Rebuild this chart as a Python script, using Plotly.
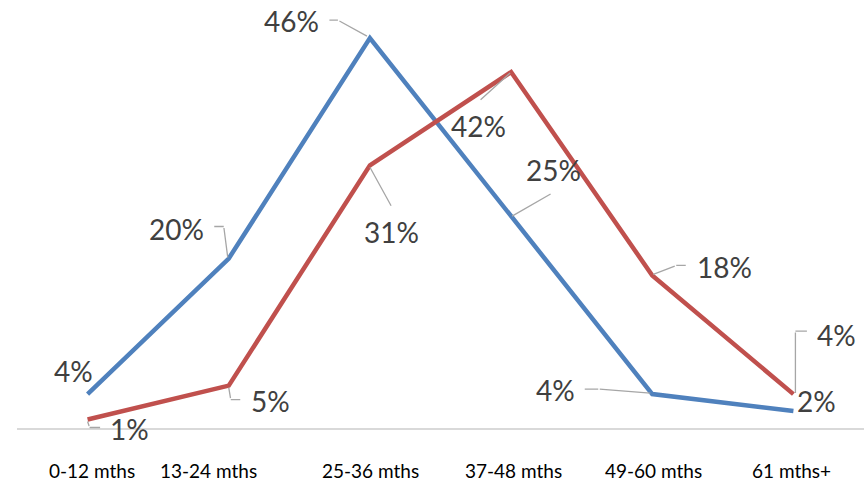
import plotly.graph_objects as go

# Age bands and share of each group (percent)
categories = ["0-12 mths", "13-24 mths", "25-36 mths", "37-48 mths", "49-60 mths", "61 mths+"]
blue_values = [4, 20, 46, 25, 4, 2]
red_values = [1, 5, 31, 42, 18, 4]

BLUE = "#4f81bd"
RED = "#c0504d"
LABEL_FONT = dict(family="Lato, 'Open Sans', sans-serif", size=28, color="#404040")
TICK_FONT = dict(family="Lato, 'Open Sans', sans-serif", size=19, color="#000000")
LEADER = "#a6a6a6"

# Label centre offsets from each point, in screen pixels (x right, y down)
blue_label_pos = [(-14, -23), (-52, -30), (-78, -17), (42, -46), (-97, -4), (23, -10)]
red_label_pos = [(42, 9), (42, 15), (22, 67), (-33, 54), (72, -8), (43, -59)]

# Leader polylines from label to point, as pixel offsets from the point
blue_leaders = [
    None,
    [(-16, -32), (-5, -32), (-1, -1)],
    [(-42, -18), (-32, -18), (-3, -2)],
    [(41, -23), (1, 0)],
    [(-69, -5), (-54, -5), (-2, -1)],
    None,
]
red_leaders = [
    [(14, 8), (2, 8), (0, 2)],
    [(13, 14), (2, 14), (0, 2)],
    [(22, 42), (0, 2)],
    [(-32, 29), (-1, 1)],
    [(35, -10), (24, -10), (1, -1)],
    [(15, -63), (2, -63), (2, -1)],
]

# Horizontal nudges for the category captions
tick_shift = [4, -20, 1, 2, 1, -2]

fig = go.Figure()
for vals, color in ((blue_values, BLUE), (red_values, RED)):
    fig.add_trace(go.Scatter(
        x=list(range(len(categories))), y=vals, mode="lines",
        line=dict(color=color, width=4.5),
        hoverinfo="skip", showlegend=False,
    ))

annotations = []
for vals, pos, leaders in ((blue_values, blue_label_pos, blue_leaders),
                           (red_values, red_label_pos, red_leaders)):
    for i, v in enumerate(vals):
        # leader segments: each segment is an arrow-only annotation shifted
        # so that its tip lands on the segment end
        path = leaders[i]
        if path:
            for (x0, y0), (x1, y1) in zip(path[:-1], path[1:]):
                annotations.append(dict(
                    x=i, y=v, xref="x", yref="y", text="",
                    showarrow=True, arrowhead=0, arrowwidth=1.3,
                    arrowcolor=LEADER, standoff=0, startstandoff=0,
                    xshift=x1, yshift=-y1, ax=x0 - x1, ay=y0 - y1,
                ))
        dx, dy = pos[i]
        annotations.append(dict(
            x=i, y=v, xref="x", yref="y", text=f"{v}%",
            showarrow=False, xshift=dx, yshift=-dy, font=LABEL_FONT,
        ))

for i, (cat, sh) in enumerate(zip(categories, tick_shift)):
    annotations.append(dict(
        x=i, y=0, xref="x", yref="y", text=cat, showarrow=False,
        xshift=sh, yshift=-42, font=TICK_FONT,
    ))

fig.update_layout(
    width=864, height=484,
    margin=dict(l=17, r=0, t=0, b=56),
    paper_bgcolor="white", plot_bgcolor="white",
    annotations=annotations,
    xaxis=dict(range=[-0.5, 5.5], showgrid=False, zeroline=False,
               showticklabels=False, ticks="",
               showline=True, linecolor="#d9d9d9", linewidth=1.5),
    yaxis=dict(range=[0, 50.5], visible=False),
)

fig.write_html("out.html")
